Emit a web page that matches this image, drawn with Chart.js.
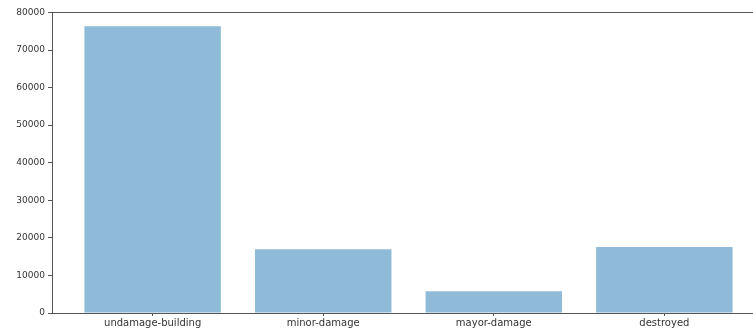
<!DOCTYPE html>
<html>
<head>
<meta charset="utf-8">
<script src="https://cdn.jsdelivr.net/npm/chart.js@4.4.0/dist/chart.umd.min.js"></script>
<style>
  html, body { margin: 0; padding: 0; background: #fff; overflow: hidden; }
  #wrap { width: 753px; height: 329px; overflow: hidden; position: relative; }
  canvas { position: absolute; left: 0; top: 0; }
</style>
</head>
<body>
<div id="wrap"><canvas id="damageChart" width="765" height="329"></canvas></div>
<script>
// damage classes and building counts
const categories = ['undamage-building', 'minor-damage', 'mayor-damage', 'destroyed'];
const counts = [76300, 17000, 5800, 17600];
const yTicks = [0, 10000, 20000, 30000, 40000, 50000, 60000, 70000, 80000];

const positions = categories.map((_, i) => i);
const axisColor = '#555';
const textColor = '#333';

const ctx = document.getElementById('damageChart').getContext('2d');

new Chart(ctx, {
    type: 'bar',
    data: {
        datasets: [{
            data: positions.map(i => ({ x: i, y: counts[i] })),
            backgroundColor: 'rgba(31, 119, 180, 0.5)',
            borderWidth: 0,
            barPercentage: 0.8,
            categoryPercentage: 1.0
        }]
    },
    options: {
        responsive: false,
        animation: false,
        layout: { padding: { top: 12, left: 0, right: 0, bottom: 0 } },
        plugins: {
            legend: { display: false },
            tooltip: { enabled: false }
        },
        scales: {
            x: {
                type: 'linear',
                offset: false,
                min: -0.59,
                max: 3.59,
                afterBuildTicks: axis => { axis.ticks = positions.map(v => ({ value: v })); },
                afterFit: axis => { axis.height = 16; },
                grid: { offset: false, drawOnChartArea: false, drawTicks: true, tickLength: 3, color: axisColor },
                border: { display: true, color: axisColor, width: 1 },
                ticks: {
                    padding: 1,
                    autoSkip: false,
                    maxRotation: 0,
                    color: textColor,
                    font: { family: 'DejaVu Sans', size: 10 },
                    callback: v => categories[v]
                }
            },
            xTop: {
                type: 'linear',
                position: 'top',
                offset: false,
                min: -0.59,
                max: 3.59,
                afterFit: axis => { axis.height = 0; },
                grid: { display: false },
                border: { display: true, color: axisColor, width: 1 },
                ticks: { display: false }
            },
            y: {
                min: 0,
                max: counts[0] * 1.05,
                afterBuildTicks: axis => { axis.ticks = yTicks.map(v => ({ value: v })); },
                afterFit: axis => { axis.width = 52; },
                grid: { drawOnChartArea: false, drawTicks: true, tickLength: 4, color: axisColor },
                border: { display: true, color: axisColor, width: 1 },
                ticks: {
                    padding: 3,
                    color: textColor,
                    font: { family: 'DejaVu Sans', size: 9 },
                    callback: v => String(v)
                }
            }
        }
    }
});
</script>
</body>
</html>
